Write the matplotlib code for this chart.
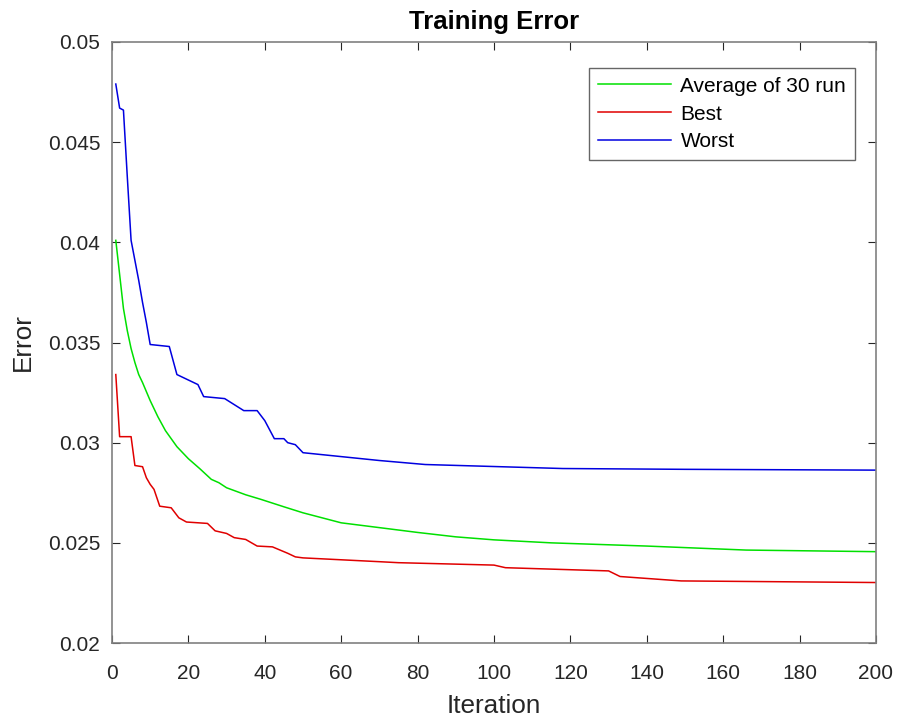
import matplotlib
matplotlib.use("Agg")
import matplotlib.pyplot as plt

plt.rcParams['font.family'] = ['Liberation Sans', 'DejaVu Sans']

# Average of 30 runs
avg_iter = [1, 2, 3, 4, 5, 6, 7, 8, 10, 12, 14, 17, 20, 23, 26, 28, 30, 35, 39, 45,
            50, 60, 70, 80, 90, 100, 115, 140, 166, 200]
avg_err = [0.0401, 0.0384, 0.0367, 0.0356, 0.0347, 0.0340, 0.0334, 0.0330, 0.0321,
           0.0313, 0.0306, 0.0298, 0.0292, 0.0287, 0.02817, 0.0280, 0.02775, 0.0274,
           0.02717, 0.0268, 0.0265, 0.0260, 0.02576, 0.02552, 0.0253, 0.02515,
           0.0250, 0.02484, 0.02464, 0.02456]

# Best run
best_iter = [1, 2, 5, 6, 8, 9, 10, 11, 12.5, 15.5, 17.5, 19.5, 25, 27, 30, 32, 35,
             38, 42, 46, 48, 50, 70, 75, 100, 103, 130, 133, 149, 200]
best_err = [0.0334, 0.0303, 0.0303, 0.02886, 0.02880, 0.02825, 0.02792, 0.02767,
            0.02683, 0.02675, 0.02625, 0.02604, 0.02597, 0.0256, 0.02547, 0.02526,
            0.02517, 0.02484, 0.0248, 0.02448, 0.0243, 0.02425, 0.02406, 0.02401,
            0.02389, 0.02376, 0.0236, 0.02332, 0.0231, 0.02302]

# Worst run
worst_iter = [1, 2, 3, 4, 5, 6, 7, 8, 9, 10, 15, 17, 22.5, 24, 29.5, 32, 34.5, 38,
              40, 42.5, 45, 46, 48, 50, 70, 82, 118, 150, 200]
worst_err = [0.0479, 0.0467, 0.0466, 0.0433, 0.0401, 0.0391, 0.0381, 0.0370, 0.0360,
             0.0349, 0.0348, 0.0334, 0.0329, 0.0323, 0.0322, 0.0319, 0.0316, 0.0316,
             0.0311, 0.0302, 0.0302, 0.0300, 0.0299, 0.0295, 0.02911, 0.02891,
             0.02871, 0.02867, 0.02863]

x_ticks = [0, 20, 40, 60, 80, 100, 120, 140, 160, 180, 200]
y_ticks = [0.02, 0.025, 0.03, 0.035, 0.04, 0.045, 0.05]
y_tick_labels = ['0.02', '0.025', '0.03', '0.035', '0.04', '0.045', '0.05']

fig = plt.figure(figsize=(8.98, 7.2), dpi=100)
ax = fig.add_axes([0.1247, 0.1069, 0.8508, 0.8348])

ax.plot(avg_iter, avg_err, color='#00e000', lw=1.1, label='Average of 30 run')
ax.plot(best_iter, best_err, color='#e00000', lw=1.1, label='Best')
ax.plot(worst_iter, worst_err, color='#0000e0', lw=1.1, label='Worst')

ax.set_xlim(0, 200)
ax.set_ylim(0.02, 0.05)
ax.set_xticks(x_ticks)
ax.set_yticks(y_ticks)
ax.set_yticklabels(y_tick_labels)
ax.tick_params(direction='in', top=True, right=True, length=6, width=0.8,
               labelsize=15, colors='#262626')
ax.tick_params(axis='x', pad=15)
ax.tick_params(axis='y', pad=8.5)
for s in ax.spines.values():
    s.set_color('#808080')
    s.set_linewidth(1.2)

ax.set_title('Training Error', fontsize=18.5, fontweight='bold', pad=9)
ax.set_xlabel('Iteration', fontsize=18.8, color='#262626', labelpad=8)
ax.set_ylabel('Error', fontsize=18.8, color='#262626', labelpad=9)

leg = ax.legend(loc='upper right', bbox_to_anchor=(0.9725, 0.9567), borderaxespad=0,
                fontsize=15, frameon=True, fancybox=False, edgecolor='#404040',
                handlelength=3.5, handletextpad=0.45, labelspacing=0.42,
                borderpad=0.42)
leg.get_frame().set_linewidth(1.0)

fig.savefig('out.png', dpi=100)
